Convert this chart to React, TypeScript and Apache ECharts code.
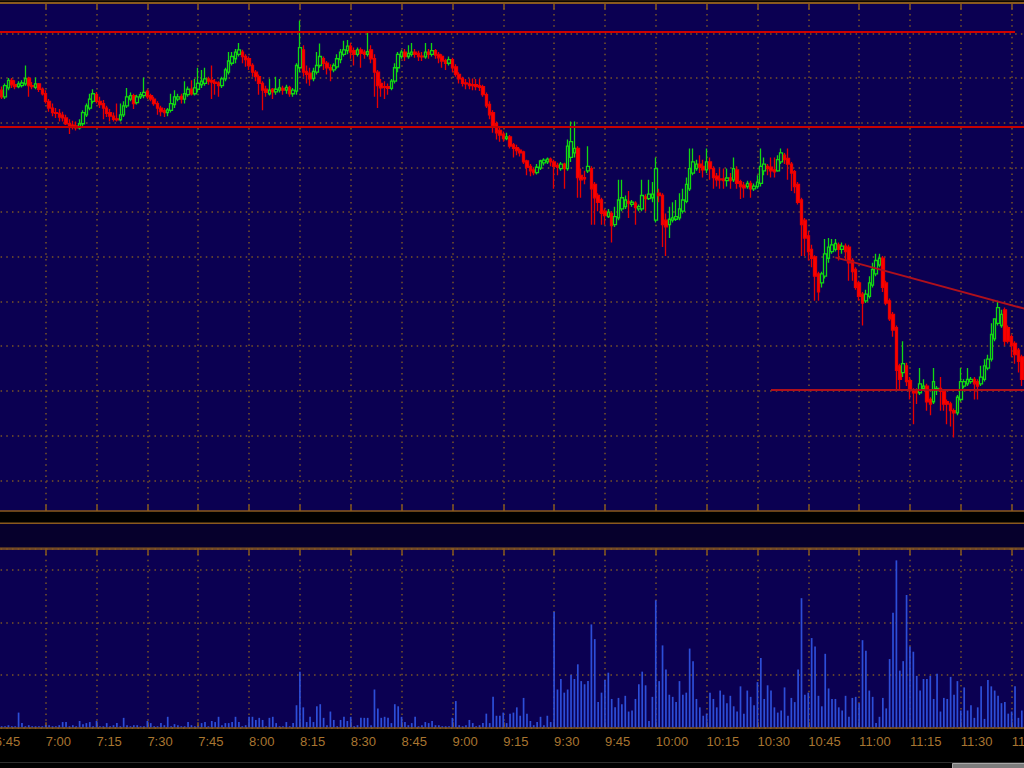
import React, { useEffect, useRef } from "react";
import * as echarts from "echarts";

// ---------- data ----------
// first 1-minute bar = 6:47 (minutes since midnight)
const FIRST_MINUTE = 407;

// [open, close, low, high] per 1-minute bar, 6:47 .. 11:48
const ohlc: number[][] = [
  [108.70,108.55,108.50,108.78],[108.55,108.80,108.50,108.85],[108.75,108.92,108.70,108.97],[108.92,108.82,108.75,108.97],
  [108.82,108.78,108.72,108.92],[108.78,108.84,108.74,108.90],[108.80,108.86,108.76,108.92],[108.84,108.96,108.80,109.25],
  [108.96,108.80,108.55,109.00],[108.80,108.78,108.72,108.88],[108.76,108.84,108.72,108.98],[108.84,108.72,108.66,108.86],
  [108.72,108.62,108.58,108.76],
  // 7:00
  [108.62,108.45,108.40,108.70],[108.45,108.30,108.22,108.50],[108.30,108.20,108.12,108.40],[108.20,108.18,108.08,108.30],
  [108.18,108.10,108.00,108.28],[108.14,108.08,108.00,108.22],[108.08,107.95,107.92,108.15],[107.95,107.90,107.72,108.05],
  [107.92,107.88,107.82,108.02],[107.90,107.86,107.80,108.00],[107.86,107.95,107.82,108.05],[107.95,108.20,107.90,108.25],
  [108.15,108.35,108.10,108.40],[108.30,108.50,108.25,108.62],[108.45,108.62,108.40,108.72],
  // 7:15
  [108.60,108.45,108.40,108.66],[108.45,108.38,108.30,108.55],[108.40,108.30,108.05,108.48],[108.30,108.18,108.10,108.35],
  [108.20,108.12,108.00,108.28],[108.12,108.05,108.00,108.20],[108.06,108.04,108.00,108.40],[108.04,108.15,108.00,108.40],
  [108.15,108.35,108.10,108.45],[108.35,108.55,108.30,108.75],[108.50,108.58,108.45,108.65],[108.58,108.40,108.28,108.62],
  [108.42,108.55,108.38,108.60],[108.55,108.60,108.50,108.66],[108.58,108.65,108.52,108.98],
  // 7:30
  [108.68,108.55,108.50,108.72],[108.58,108.50,108.45,108.62],[108.50,108.40,108.35,108.55],[108.40,108.30,108.15,108.45],
  [108.30,108.22,108.12,108.35],[108.24,108.20,108.10,108.30],[108.20,108.26,108.12,108.30],[108.25,108.40,108.20,108.62],
  [108.38,108.55,108.30,108.70],[108.50,108.55,108.45,108.62],[108.56,108.50,108.40,108.62],[108.50,108.62,108.40,108.90],
  [108.60,108.72,108.55,108.78],[108.72,108.62,108.58,108.92],[108.62,108.75,108.58,108.95],
  // 7:45
  [108.72,108.85,108.65,109.20],[108.82,108.90,108.75,109.15],[108.85,108.95,108.80,109.20],[108.95,108.90,108.82,109.00],
  [108.92,108.88,108.50,109.25],[108.88,108.85,108.60,108.95],[108.86,108.80,108.55,108.90],[108.80,108.95,108.75,109.00],
  [108.95,109.15,108.90,109.20],[109.10,109.35,109.05,109.55],[109.30,109.45,109.25,109.55],[109.40,109.55,109.30,109.62],
  [109.50,109.60,109.45,109.75],[109.55,109.45,109.30,109.60],[109.45,109.38,109.22,109.50],
  // 8:00
  [109.40,109.25,109.15,109.45],[109.25,109.10,109.00,109.30],[109.10,109.00,108.90,109.15],[109.00,108.85,108.60,109.05],
  [108.85,108.70,108.25,108.90],[108.72,108.65,108.55,108.80],[108.62,108.70,108.58,108.95],[108.72,108.66,108.50,108.75],
  [108.66,108.72,108.60,109.00],[108.70,108.75,108.65,108.95],[108.74,108.70,108.60,108.80],[108.70,108.76,108.62,108.82],
  [108.76,108.62,108.55,108.80],[108.62,108.70,108.55,108.75],[108.68,109.25,108.60,109.30],
  // 8:15
  [109.20,109.65,109.10,110.25],[109.60,109.10,109.00,109.70],[109.12,109.05,108.85,109.25],[109.08,108.95,108.80,109.20],
  [108.96,109.12,108.90,109.20],[109.10,109.25,109.05,109.55],[109.25,109.45,109.20,109.74],[109.40,109.30,109.15,109.45],
  [109.30,109.20,109.05,109.35],[109.20,109.15,108.90,109.28],[109.15,109.25,109.10,109.30],[109.22,109.40,109.18,109.50],
  [109.38,109.55,109.30,109.62],[109.50,109.60,109.45,109.80],[109.58,109.68,109.50,109.82],
  // 8:30
  [109.68,109.55,109.40,109.75],[109.58,109.50,109.25,109.65],[109.50,109.60,109.45,109.65],[109.60,109.52,109.20,109.65],
  [109.55,109.50,109.40,109.60],[109.50,109.56,109.45,110.00],[109.60,109.40,109.30,109.70],[109.40,109.10,108.55,109.50],
  [109.10,108.80,108.30,109.15],[108.85,108.75,108.55,108.95],[108.78,108.76,108.50,108.90],[108.78,108.74,108.60,108.85],
  [108.74,108.90,108.70,108.95],[108.90,109.20,108.85,109.30],[109.20,109.50,109.10,109.55],
  // 8:45
  [109.45,109.55,109.40,109.60],[109.55,109.45,109.35,109.62],[109.45,109.52,109.40,109.70],[109.50,109.55,109.45,109.75],
  [109.55,109.50,109.42,109.62],[109.52,109.45,109.35,109.58],[109.46,109.44,109.35,109.55],[109.44,109.55,109.40,109.75],
  [109.55,109.50,109.40,109.62],[109.50,109.58,109.45,109.75],[109.58,109.48,109.40,109.62],[109.50,109.42,109.30,109.55],
  [109.45,109.35,109.20,109.50],[109.36,109.30,109.15,109.40],[109.30,109.38,109.25,109.45],
  // 9:00
  [109.38,109.20,109.10,109.42],[109.22,109.05,109.00,109.28],[109.05,108.95,108.85,109.10],[108.96,108.85,108.78,109.00],
  [108.86,108.84,108.72,108.95],[108.84,108.80,108.72,108.96],[108.82,108.80,108.70,108.96],[108.82,108.78,108.70,108.95],
  [108.80,108.76,108.68,108.96],[108.78,108.60,108.55,108.82],[108.60,108.35,108.30,108.65],[108.38,108.15,108.05,108.45],
  [108.20,107.90,107.75,108.25],[107.95,107.75,107.60,108.00],[107.80,107.70,107.55,107.88],
  // 9:15
  [107.72,107.62,107.55,107.78],[107.62,107.66,107.58,107.75],[107.66,107.45,107.40,107.70],[107.48,107.40,107.20,107.52],
  [107.42,107.35,107.25,107.48],[107.36,107.30,107.22,107.40],[107.32,107.10,107.05,107.35],[107.12,106.98,106.80,107.15],
  [107.00,106.90,106.78,107.05],[106.92,106.86,106.80,106.98],[106.86,106.98,106.82,107.05],[106.96,107.12,106.92,107.15],
  [107.08,107.14,107.02,107.18],[107.10,107.16,107.05,107.20],[107.16,107.10,107.00,107.20],
  // 9:30
  [107.10,107.00,106.50,107.15],[107.02,106.98,106.80,107.08],[106.95,107.05,106.90,107.10],[107.05,106.95,106.50,107.08],
  [106.95,107.45,106.90,107.60],[107.20,107.55,107.10,108.00],[107.30,107.40,107.20,108.00],[107.40,106.75,106.30,107.45],
  [106.80,106.70,106.30,106.95],[106.75,106.72,106.60,106.90],[106.90,107.00,106.85,107.45],[106.95,106.50,105.70,107.00],
  [106.60,106.30,105.70,106.65],[106.35,106.20,106.00,106.40],[106.25,105.95,105.70,106.30],
  // 9:45
  [106.00,105.90,105.70,106.05],[105.88,105.98,105.85,106.05],[105.95,105.68,105.30,106.00],[105.70,105.88,105.65,106.10],
  [105.85,106.25,105.80,106.70],[106.05,106.30,106.00,106.70],[106.10,106.25,106.05,106.35],[106.22,106.18,105.85,106.45],
  [106.15,106.20,106.10,106.25],[106.18,106.08,105.70,106.22],[106.05,106.10,106.00,106.15],[106.05,106.35,106.00,106.70],
  [106.32,106.28,106.00,106.38],[106.28,106.38,106.25,106.70],[106.30,106.38,106.20,106.65],
  // 10:00
  [105.80,106.95,105.75,107.20],[106.40,106.35,106.20,106.50],[106.35,105.70,105.20,106.40],[105.80,105.65,105.00,105.95],
  [105.70,105.82,105.40,106.10],[105.80,105.85,105.75,106.20],[105.82,105.88,105.78,106.25],[105.85,106.05,105.80,106.40],
  [106.00,106.25,105.95,106.50],[106.22,106.60,106.18,106.75],[106.50,106.95,106.45,107.40],[106.85,107.10,106.80,107.40],
  [106.95,107.05,106.90,107.15],[107.05,106.98,106.85,107.25],[107.00,106.92,106.75,107.15],
  // 10:15
  [106.92,107.10,106.85,107.40],[107.10,106.95,106.70,107.20],[106.95,106.75,106.50,107.00],[106.78,106.70,106.55,106.85],
  [106.72,106.70,106.50,106.95],[106.72,106.68,106.50,106.95],[106.68,106.74,106.55,106.95],[106.74,106.68,106.50,106.85],
  [106.70,106.95,106.65,107.20],[106.92,106.62,106.50,107.00],[106.66,106.55,106.27,106.70],[106.58,106.52,106.30,106.65],
  [106.55,106.62,106.50,106.68],[106.62,106.50,106.30,106.68],[106.50,106.56,106.45,106.62],
  // 10:30
  [106.55,106.65,106.50,106.80],[106.62,107.00,106.55,107.40],[106.90,107.05,106.80,107.20],[107.00,106.95,106.80,107.05],
  [106.98,106.90,106.75,107.20],[106.92,106.88,106.75,107.20],[106.90,107.15,106.88,107.25],[107.10,107.30,107.05,107.40],
  [107.25,107.15,107.05,107.30],[107.18,107.05,106.70,107.40],[107.05,106.85,106.45,107.10],[106.88,106.55,106.40,106.92],
  [106.60,106.20,106.15,106.65],[106.25,105.70,105.00,106.30],[105.80,105.40,105.00,105.85],
  // 10:45
  [105.45,105.10,104.90,105.55],[105.15,104.95,104.75,105.25],[104.98,104.55,104.00,105.02],[104.60,104.20,104.00,104.65],
  [104.40,104.60,104.30,104.65],[104.55,105.05,104.50,105.38],[104.95,105.20,104.85,105.40],[105.10,105.25,105.05,105.38],
  [105.15,105.28,105.10,105.38],[105.25,105.15,104.90,105.30],[105.15,105.22,105.05,105.30],[105.22,105.10,104.90,105.28],
  [105.20,104.85,104.45,105.25],[104.90,104.65,104.45,104.95],[104.70,104.30,104.25,104.75],
  // 11:00
  [104.40,104.10,104.00,104.45],[104.15,103.95,103.45,104.20],[104.00,104.15,103.95,104.25],[104.10,104.40,104.05,104.55],
  [104.35,104.70,104.30,104.85],[104.60,104.90,104.55,105.05],[104.80,104.95,104.75,105.05],[104.95,104.30,104.20,105.00],
  [104.40,103.95,103.90,104.45],[104.00,103.60,103.55,104.05],[103.70,103.35,103.20,103.75],[103.40,102.45,102.00,103.45],
  [102.55,102.25,102.00,102.60],[102.40,102.60,102.30,103.10],[102.55,102.20,102.10,102.62],
  // 11:15
  [102.22,102.00,101.80,102.30],[102.02,101.95,101.25,102.05],[101.98,101.95,101.70,102.05],[101.95,102.15,101.90,102.50],
  [102.05,102.10,102.00,102.25],[102.10,101.75,101.55,102.15],[101.80,101.70,101.45,101.85],[101.75,102.20,101.70,102.50],
  [102.00,102.05,101.90,102.10],[102.05,101.98,101.55,102.30],[101.98,101.70,101.55,102.00],[101.75,101.70,101.25,101.80],
  [101.70,101.55,101.20,101.75],[101.55,101.50,100.95,101.60],[101.50,101.85,101.45,101.90],
  // 11:30
  [101.80,102.20,101.75,102.50],[102.10,102.20,102.05,102.25],[102.15,102.25,102.10,102.50],[102.20,102.25,102.15,102.30],
  [102.25,102.15,101.80,102.30],[102.20,102.10,101.80,102.25],[102.15,102.30,102.10,102.55],[102.25,102.55,102.20,102.70],
  [102.50,102.70,102.45,102.80],[102.70,103.25,102.65,103.50],[103.15,103.60,103.10,103.60],[103.50,103.85,103.45,104.00],
  [103.45,103.70,103.40,103.80],[103.80,103.10,103.00,103.85],[103.40,103.10,103.05,103.45],[103.20,103.00,102.75,103.25],
  [103.05,102.80,102.60,103.10],[102.90,102.65,102.40,102.95],[102.75,102.25,102.10,102.80],
];

// volume per bar (thousands)
const volumes: number[] = [
  1,1,2,1,1,14,4,1,2,1,1,1,1,
  2,2,1,1,2,5,5,1,2,1,6,3,4,5,1,
  6,1,1,4,1,2,4,1,9,2,1,2,2,1,1,
  6,4,1,1,4,2,10,1,3,2,1,1,5,2,1,
  1,4,5,1,6,5,10,2,4,4,5,10,5,1,2,
  10,10,7,9,7,1,9,10,4,1,1,5,1,4,21,
  53,19,5,10,5,20,22,9,2,15,7,1,7,10,6,
  10,1,2,9,9,9,2,36,18,9,10,9,4,22,20,
  10,5,2,4,10,1,2,5,4,6,2,2,1,1,1,
  9,25,2,1,2,7,4,1,2,4,13,4,29,11,11,
  14,4,13,14,19,11,28,13,6,2,5,10,2,11,5,
  110,36,46,33,36,50,46,60,44,41,44,98,84,24,33,
  45,52,27,19,28,22,30,15,16,27,41,53,40,6,29,
  121,44,78,55,31,29,24,44,31,33,75,63,27,19,11,
  13,33,27,19,35,31,23,30,20,15,39,13,35,29,21,
  43,66,27,40,35,19,14,16,38,11,28,24,55,123,31,
  33,85,77,30,20,70,37,27,27,19,16,30,10,28,29,
  23,83,73,35,29,4,10,28,18,65,109,159,54,63,126,
  77,72,49,35,46,46,49,27,51,15,28,27,48,31,44,
  16,38,16,21,9,19,39,8,45,39,35,30,23,24,13,15,39,9,16,
];

// time axis (minutes since midnight): 6:45 .. 12:00, every 15 minutes
const timeAxis = { min: 405, max: 720, step: 15 };
// price panel
const priceView = { min: 99.313, max: 110.655 };
const priceGridLevels = { min: 100, max: 110, step: 1 };
// volume panel
const volumeAxis = { min: 0, max: 170.5, step: 50 };

// drawn levels: price, from "H:MM", to "H:MM"
const levelNames = ["top", "range", "support"];
const levelPrices = [110.0, 107.89, 102.01];
const levelFrom = ["6:45", "6:45", "10:34"];
const levelTo = ["11:46", "12:00", "12:00"];
// trend line: two points (time, price)
const trendTimes = ["10:53", "11:52"];
const trendPrices = [104.97, 103.76];

// ---------- styles ----------
const NAVY = "#0b0052";
const DARK = "#06002c";
const BROWN = "#8a5a1e";
const DOT = "#7a5427";
const LABEL = "#a87530";
const GRID_LEFT = -5.13;
const GRID_WIDTH = 1067.6;

const toMin = (s: string) => {
  const [h, m] = s.split(":").map(Number);
  return h * 60 + m;
};
const fmtTime = (v: number) => `${Math.floor(v / 60)}:${String(Math.round(v) % 60).padStart(2, "0")}`;

const dotted = { color: DOT, width: 1.5, type: [1.5, 4.2] as any };

export default function App() {
  const ref = useRef<HTMLDivElement>(null);

  useEffect(() => {
    if (!ref.current) return;
    const chart = echarts.init(ref.current, undefined, { renderer: "svg" });

    const candleData = ohlc.map((d, i) => [FIRST_MINUTE + i, d[0], d[1], d[2], d[3]]);
    const volData = volumes.map((v, i) => [FIRST_MINUTE + i, v]);

    const levelColors = ["#d00000", "#c80000", "#b0101c"];
    const markData: any[] = levelPrices.map((p, k) => [
      { name: levelNames[k], coord: [toMin(levelFrom[k]), p], lineStyle: { color: levelColors[k], width: 2, type: "solid" } },
      { coord: [toMin(levelTo[k]), p] },
    ]);
    markData.push([
      { name: "trend", coord: [toMin(trendTimes[0]), trendPrices[0]], lineStyle: { color: "#b0101c", width: 2, type: "solid" } },
      { coord: [toMin(trendTimes[1]), trendPrices[1]] },
    ]);

    const baseX = { type: "value", min: timeAxis.min, max: timeAxis.max, interval: timeAxis.step };

    const option: any = {
      animation: false,
      backgroundColor: "#000000",
      grid: [
        { left: GRID_LEFT, width: GRID_WIDTH, top: 2.5, height: 508.5, show: true, backgroundColor: NAVY, borderWidth: 0, containLabel: false, outerBoundsMode: "none" },
        { left: GRID_LEFT, width: GRID_WIDTH, top: 33.3, height: 447, show: false, containLabel: false, outerBoundsMode: "none" },
        { left: GRID_LEFT, width: GRID_WIDTH, top: 523.3, height: 25, show: true, backgroundColor: DARK, borderColor: BROWN, borderWidth: 1.5, containLabel: false, outerBoundsMode: "none" },
        { left: GRID_LEFT, width: GRID_WIDTH, top: 548.3, height: 179, show: true, backgroundColor: NAVY, borderWidth: 0, containLabel: false, outerBoundsMode: "none" },
      ],
      xAxis: [
        {
          ...baseX, gridIndex: 0, position: "bottom",
          axisLine: { show: true, lineStyle: { color: BROWN, width: 1.5 } },
          axisTick: { show: true, inside: true, length: 6, lineStyle: { color: BROWN, width: 1.5 } },
          axisLabel: { show: false },
          splitLine: { show: true, lineStyle: dotted },
        },
        {
          ...baseX, gridIndex: 0, position: "top",
          axisLine: { show: true, lineStyle: { color: BROWN, width: 2 } },
          axisTick: { show: true, inside: true, length: 7, lineStyle: { color: BROWN, width: 1.5 } },
          axisLabel: { show: false },
          splitLine: { show: false },
        },
        { ...baseX, gridIndex: 1, show: false },
        { ...baseX, gridIndex: 2, show: false },
        {
          ...baseX, gridIndex: 3, position: "bottom",
          axisLine: { show: true, lineStyle: { color: BROWN, width: 1.5 } },
          axisTick: { show: true, inside: true, length: 5, lineStyle: { color: BROWN, width: 1.5 } },
          axisLabel: {
            show: true, color: LABEL, fontSize: 13, fontFamily: "Liberation Sans, Arial, sans-serif",
            align: "left", margin: 8, formatter: fmtTime, showMinLabel: true, showMaxLabel: false,
          },
          splitLine: { show: true, lineStyle: dotted },
        },
        {
          ...baseX, gridIndex: 3, position: "top",
          axisLine: { show: true, lineStyle: { color: BROWN, width: 1.5 } },
          axisTick: { show: true, inside: true, length: 7, lineStyle: { color: BROWN, width: 1.5 } },
          axisLabel: { show: false },
          splitLine: { show: false },
        },
      ],
      yAxis: [
        { type: "value", gridIndex: 0, min: priceView.min, max: priceView.max, show: false, splitLine: { show: false } },
        {
          type: "value", gridIndex: 1, min: priceGridLevels.min, max: priceGridLevels.max, interval: priceGridLevels.step,
          axisLine: { show: false }, axisTick: { show: false }, axisLabel: { show: false },
          splitLine: { show: true, lineStyle: dotted },
        },
        { type: "value", gridIndex: 2, show: false },
        {
          type: "value", gridIndex: 3, min: volumeAxis.min, max: volumeAxis.max, interval: volumeAxis.step,
          axisLine: { show: false }, axisTick: { show: false }, axisLabel: { show: false },
          splitLine: { show: true, lineStyle: dotted },
        },
      ],
      series: [
        {
          type: "candlestick",
          xAxisIndex: 0,
          yAxisIndex: 0,
          data: candleData,
          encode: { x: 0, y: [1, 2, 3, 4] },
          barWidth: 3,
          clip: false,
          itemStyle: {
            color: NAVY,
            color0: "#ff0000",
            borderColor: "#12d812",
            borderColor0: "#e80000",
            borderWidth: 1.3,
          },
          markLine: {
            silent: true,
            symbol: ["none", "none"],
            label: { show: false },
            lineStyle: { type: "solid", width: 2, color: "#c80000" },
            data: markData,
          },
        },
        {
          type: "bar",
          xAxisIndex: 4,
          yAxisIndex: 3,
          data: volData,
          barWidth: 1.7,
          itemStyle: { color: "#2d4ed8" },
        },
      ],
      graphic: [
        { type: "rect", shape: { x: 0, y: 0, width: 1024, height: 1.2 }, style: { fill: "#2a1a08" }, silent: true },
        { type: "rect", shape: { x: 0, y: 762, width: 1024, height: 1 }, style: { fill: "#2e2e2e" }, silent: true },
        { type: "rect", shape: { x: 952.5, y: 763.5, width: 72, height: 5 }, style: { fill: "#7c7c7c", stroke: "#a8a8a8", lineWidth: 1 }, silent: true },
      ],
    };

    chart.setOption(option);
    return () => chart.dispose();
  }, []);

  return (
    <div
      ref={ref}
      style={{ position: "fixed", left: 0, top: 0, width: 1024, height: 768, background: "#000" }}
    />
  );
}
